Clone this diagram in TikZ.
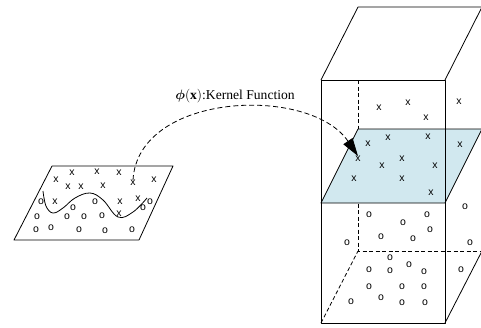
\documentclass[tikz,border=0pt]{standalone}
\usepackage{fix-cm}
\usepackage{bm}
\usepackage{fontspec}
\setmainfont{Liberation Serif}
\newfontfamily\mkfont{Liberation Sans}
\usetikzlibrary{arrows.meta}
\definecolor{planeblue}{RGB}{209,232,239}
\begin{document}
\begin{tikzpicture}[x=1pt,y=-1pt,
  edge/.style={line width=0.8pt, line join=round},
  hidden/.style={line width=0.8pt, dash pattern=on 4pt off 2.5pt},
  mk/.style={inner sep=0pt, font=\mkfont\fontsize{10.5}{11}\selectfont},
  kernel/.style={line width=0.8pt, dash pattern=on 5pt off 3pt, -{Triangle[length=18pt,width=11pt]}},
  lbl/.style={font=\fontsize{13.6}{16}\selectfont, inner sep=0pt, anchor=base}]
\useasboundingbox (0,0) rectangle (481,327);

% ---- left plane ----
\draw[edge, fill=white] (14,240) -- (139,240) -- (173,166) -- (52,166) -- cycle;
\draw[edge] plot[smooth, tension=0.65] coordinates {(43,191) (46,206) (53,213) (63,208) (75,198) (90,193) (103,200) (118,217) (133,212) (147,198)};
\foreach \n/\a/\b in {1/72/173,2/97/172,3/119/173,4/56/180,5/68/187,6/81/187,7/103/186,8/133/183,9/154/180,10/55/202,11/120/202,12/138/199,13/119/214}
  \node[mk] (xl\n) at (\a,\b) {x};
\foreach \n/\a/\b in {1/41/202,2/73/208,3/95/202,4/37/217,5/67/217,6/84/217,7/102/216,8/143/208,9/150/202,10/36/230,11/51/228,12/79/230,13/105/231,14/132/230}
  \node[mk] (ol\n) at (\a,\b) {o};

% ---- cube: hidden edges ----
\draw[hidden] (358,80) -- (358,251) -- (484,251);
\draw[hidden] (321,323) -- (358,251);

% ---- blue plane ----
\draw[edge, fill=planeblue] (321,203) -- (445,203) -- (482,129) -- (358,129) -- cycle;

% ---- cube: visible edges ----
\draw[edge] (321,80) -- (358,7) -- (482,7) -- (445,80);
\draw[edge] (321,80) rectangle (445,323);
\draw[edge] (445,323) -- (482,251);

% ---- marks in the cube ----
\foreach \n/\a/\b in {1/379/108,2/408/103,3/426/118,4/459/102}
  \node[mk] (xu\n) at (\a,\b) {x};
\foreach \n/\a/\b in {1/368/144,2/388/138,3/428/137,4/460/145,5/358/159,6/382/166,7/402/159,8/435/166,9/354/179,10/402/179,11/431/193}
  \node[mk] (xp\n) at (\a,\b) {x};
\foreach \n/\a/\b in {1/369/215,2/403/223,3/427/215,4/465/207,5/381/237,6/413/239,7/430/230,8/347/243,9/470/243,10/390/258,11/409/265,12/369/270,13/390/271,14/424/272,15/461/270,16/369/287,17/402/287,18/424/287,19/351/302,20/381/298,21/402/303,22/425/303}
  \node[mk] (ob\n) at (\a,\b) {o};

% ---- label and kernel arrow ----
\node[lbl] (label) at (235,99.5) {$\bm{\phi}(\mathbf{x})$:Kernel Function};
\draw[kernel] (xl8.north) .. controls (138,92) and (310,85) .. (xp5.north);
\end{tikzpicture}
\end{document}
